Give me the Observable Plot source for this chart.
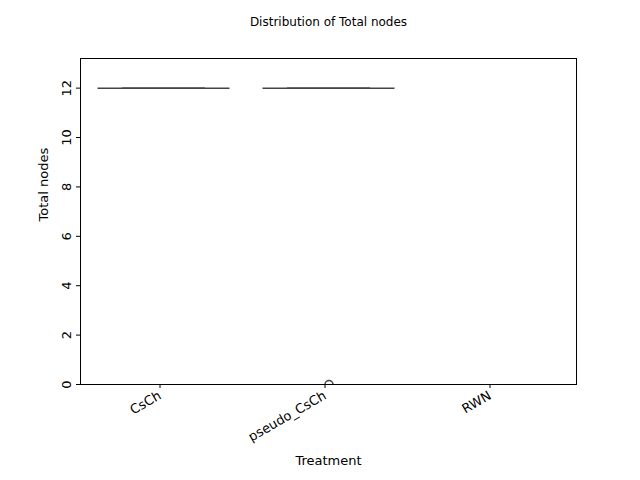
<!DOCTYPE html>
<html><head>
<script src="https://cdn.jsdelivr.net/npm/d3@7"></script>
<script src="https://cdn.jsdelivr.net/npm/@observablehq/plot@0.6"></script>
<style>body{margin:0;background:#fff}</style>
</head><body>
<div id="chart"></div>
<script>
const treatments = ['CsCh', 'pseudo_CsCh', 'RWN']
const cschNodes = [12, 12, 12, 12, 12, 12, 12, 12]
const pseudoNodes = [12, 12, 12, 12, 12, 12, 12, 0]
const yTicks = [0, 2, 4, 6, 8, 10, 12]

const groups = [['CsCh', cschNodes], ['pseudo_CsCh', pseudoNodes]]
const stats = groups.map(([t, v]) => {
  const s = v.slice().sort(d3.ascending)
  const q1 = d3.quantile(s, 0.25), q2 = d3.quantile(s, 0.5), q3 = d3.quantile(s, 0.75)
  const iqr = q3 - q1
  const inside = s.filter(d => d >= q1 - 1.5 * iqr && d <= q3 + 1.5 * iqr)
  return {t, q1, q2, q3, lo: d3.min(inside), hi: d3.max(inside),
    out: s.filter(d => d < q1 - 1.5 * iqr || d > q3 + 1.5 * iqr)}
})
const outliers = stats.flatMap(s => s.out.map(v => ({t: s.t, v})))

const chart = Plot.plot({
  width: 640, height: 480,
  marginLeft: 80, marginRight: 64, marginTop: 58, marginBottom: 96,
  style: {fontFamily: 'DejaVu Sans', fontSize: '13px', color: '#000'},
  x: {domain: treatments, padding: 0, label: null},
  y: {domain: [0, 13.2], label: null},
  marks: [
    Plot.frame({stroke: '#000'}),
    Plot.axisX({tickRotate: -30, tickSize: 4, tickPadding: 6, fontSize: 13, dx: -4}),
    Plot.axisY({ticks: yTicks, tickRotate: -90, tickSize: 4, tickPadding: 6, fontSize: 13, tickFormat: d => d}),
    Plot.text(['Treatment'], {frameAnchor: 'bottom', dy: 80, fontSize: 13}),
    Plot.text(['Total nodes'], {frameAnchor: 'left', dx: -37, rotate: -90, fontSize: 13}),
    Plot.text(['Distribution of Total nodes'], {frameAnchor: 'top', dy: -41, fontSize: 12}),
    // whiskers
    Plot.ruleX(stats, {x: 't', y1: 'lo', y2: 'q1', stroke: '#444'}),
    Plot.ruleX(stats, {x: 't', y1: 'q3', y2: 'hi', stroke: '#444'}),
    Plot.tickY(stats, {x: 't', y: 'lo', stroke: '#444', inset: 41}),
    Plot.tickY(stats, {x: 't', y: 'hi', stroke: '#444', inset: 41}),
    Plot.barY(stats, {x: 't', y1: 'q1', y2: 'q3', fill: '#1f77b4', fillOpacity: 0.5, stroke: '#444', insetLeft: 16.5, insetRight: 16.5}),
    Plot.tickY(stats, {x: 't', y: 'q2', stroke: '#444', strokeWidth: 1.5, inset: 16.5}),
    Plot.dot(outliers, {x: 't', y: 'v', r: 4, stroke: '#444', fill: 'none', clip: true})
  ]
})
document.getElementById('chart').append(chart)
</script>
</body></html>
